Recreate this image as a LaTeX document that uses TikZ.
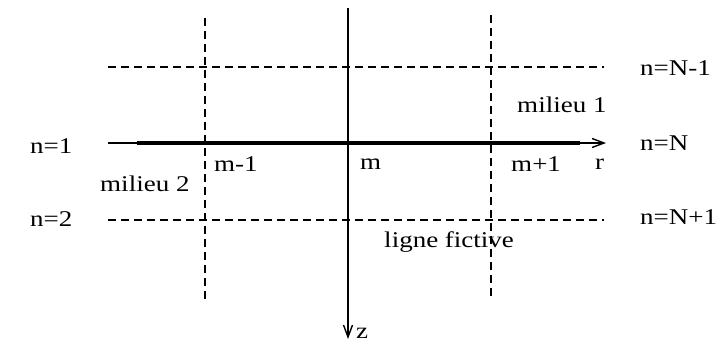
\documentclass[tikz,border=0pt]{standalone}
\usepackage{fontspec}
\setmainfont{Liberation Serif}
\usetikzlibrary{arrows.meta}
\begin{document}
\begin{tikzpicture}[
  x=1pt, y=-1pt,
  lbl/.style={font=\fontsize{22.5}{24}\selectfont, inner sep=0pt, xscale=1.2, transform shape},
  grid/.style={dashed, dash pattern=on 8pt off 5pt, line width=1.3pt},
  axis/.style={-{Straight Barb[length=12pt,width=9pt]}, line width=1.4pt}
]
\useasboundingbox (0,0) rectangle (728,345);
\coordinate (rstart) at (108,143);
\coordinate (rend) at (606,143);
\coordinate (zstart) at (348,8);
\coordinate (zend) at (348,339);
\coordinate (thickl) at (137,143);
\coordinate (thickr) at (580,143);
\coordinate (toplt) at (108,67);
\coordinate (toprt) at (604,67);
\coordinate (botlt) at (108,220);
\coordinate (botrt) at (604,220);
\coordinate (leftup) at (205,18);
\coordinate (leftdn) at (205,300);
\coordinate (rightup) at (491,15);
\coordinate (rightdn) at (491,297);
% dashed grid
\draw[grid] (toplt) -- (toprt);
\draw[grid] (botlt) -- (botrt);
\draw[grid] (leftup) -- (leftdn);
\draw[grid] (rightup) -- (rightdn);
% axes
\draw[axis] (rstart) -- (rend);
\draw[line width=4pt] (thickl) -- (thickr);
\draw[axis] (zstart) -- (zend);
% labels
\node[lbl, anchor=west] (n1) at (30,146) {n=1};
\node[lbl, anchor=west] (n2) at (30,219) {n=2};
\node[lbl, anchor=west] (nNm) at (640,68) {n=N-1};
\node[lbl, anchor=west] (nN) at (640,143) {n=N};
\node[lbl, anchor=west] (nNp) at (640,217) {n=N+1};
\node[lbl, anchor=west] (mil2) at (100,184) {milieu 2};
\node[lbl, anchor=west] (mil1) at (517,105) {milieu 1};
\node[lbl, anchor=west] (mm) at (214,164) {m-1};
\node[lbl, anchor=west] (m) at (360,164) {m};
\node[lbl, anchor=west] (mp) at (511,164) {m+1};
\node[lbl, anchor=west] (r) at (595,164) {r};
\node[lbl, anchor=west] (lf) at (384,242) {ligne fictive};
\node[lbl, anchor=west] (z) at (356,333) {z};
\end{tikzpicture}
\end{document}
